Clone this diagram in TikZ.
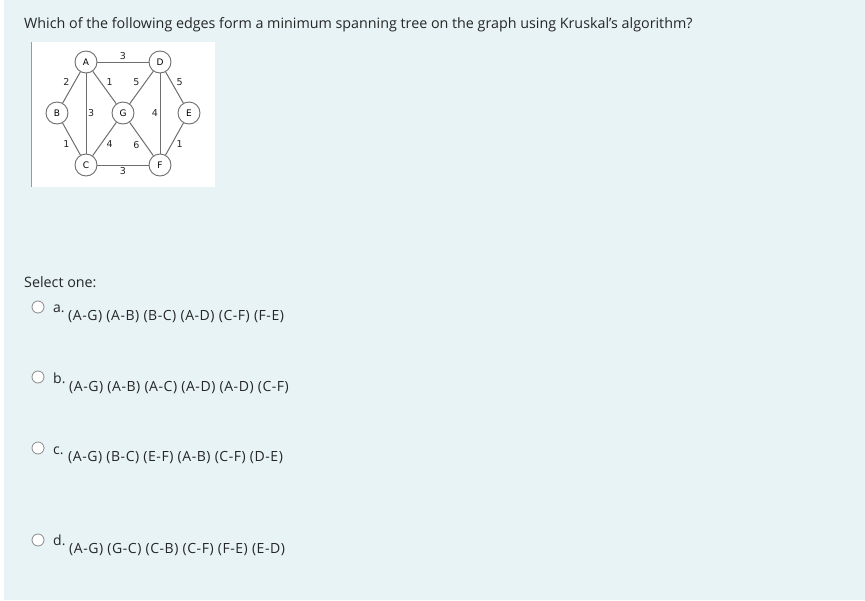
\documentclass[tikz,border=0pt]{standalone}
\usepackage{fontspec}
\setmainfont{Open Sans}
\newfontfamily\graphfont{DejaVu Sans}
\newfontfamily\answerfont[LetterSpace=3.9]{Open Sans}

\definecolor{panel}{HTML}{E7F3F5}
\definecolor{ink}{HTML}{262626}
\definecolor{edgegrey}{HTML}{6E6E6E}
\definecolor{radiogrey}{HTML}{8A8A8A}

\begin{document}
\begin{tikzpicture} [
            x=1pt, y=-1pt,
            vertex/.style = {draw=edgegrey, circle, fill=white, line width=0.9pt,
                             minimum size=22pt, inner sep=0pt,
                             font=\graphfont\fontsize{9}{9}\selectfont},
            wlabel/.style = {font=\graphfont\fontsize{9.5}{9.5}\selectfont, inner sep=1.5pt, text=ink},
            wedge/.style = {draw=edgegrey, line width=1pt},
            question/.style = {anchor=base west, inner sep=0pt, text=ink, font=\fontsize{14.3}{17}\selectfont},
            radio/.style = {draw=radiogrey, circle, fill=white, line width=0.8pt,
                            minimum size=12pt, inner sep=0pt},
            letter/.style = {anchor=base west, inner sep=0pt, text=ink, font=\fontsize{14}{16}\selectfont},
            answer/.style = {anchor=base west, inner sep=0pt, text=ink, font=\answerfont\fontsize{14}{16}\selectfont},
        ]

            % page and panel
            \useasboundingbox (0,0) rectangle (865,600);
            \fill[white] (0,0) rectangle (865,600);
            \fill[panel] (4,0) rectangle (865,600);

            % picture of the graph
            \fill[white] (31,42) rectangle (215,187);
            \draw[edgegrey!70, line width=0.8pt] (31,42) -- (31,187);

            \node[question] (Q) at (24, 28) {Which of the following edges form a minimum spanning tree on the graph using Kruskal's algorithm?};

            \node[vertex] (A) at ( 86,  62) {A};
            \node[vertex] (D) at (160,  62) {D};
            \node[vertex] (B) at ( 57, 113) {B};
            \node[vertex] (G) at (123, 113) {G};
            \node[vertex] (E) at (189, 113) {E};
            \node[vertex] (C) at ( 86, 165) {C};
            \node[vertex] (F) at (160, 165) {F};

            \draw[wedge] (A) -- node[wlabel, above] {3} (D);
            \draw[wedge] (A) -- node[wlabel, above left] {2} (B);
            \draw[wedge] (A) -- node[wlabel, above right] {1} (G);
            \draw[wedge] (A) -- node[wlabel, right] {3} (C);
            \draw[wedge] (D) -- node[wlabel, above left] {5} (G);
            \draw[wedge] (D) -- node[wlabel, above right] {5} (E);
            \draw[wedge] (D) -- node[wlabel, left] {4} (F);
            \draw[wedge] (B) -- node[wlabel, below left] {1} (C);
            \draw[wedge] (G) -- node[wlabel, below right] {4} (C);
            \draw[wedge] (G) -- node[wlabel, below left] {6} (F);
            \draw[wedge] (E) -- node[wlabel, below right] {1} (F);
            \draw[wedge] (C) -- node[wlabel, below] {3} (F);

            \node[question] (S) at (24, 287) {Select one:};

            \node[radio] (ra) at (38, 307) {};
            \node[letter] (la) at (53, 312) {a.};
            \node[answer] (oa) at (68, 320) {(A-G) (A-B) (B-C) (A-D) (C-F) (F-E)};

            \node[radio] (rb) at (38, 377) {};
            \node[letter] (lb) at (53, 383) {b.};
            \node[answer] (ob) at (69, 391) {(A-G) (A-B) (A-C) (A-D) (A-D) (C-F)};

            \node[radio] (rc) at (38, 448) {};
            \node[letter] (lc) at (53, 454) {c.};
            \node[answer] (oc) at (68, 461) {(A-G) (B-C) (E-F) (A-B) (C-F) (D-E)};

            \node[radio] (rd) at (38, 540) {};
            \node[letter] (ld) at (53, 545) {d.};
            \node[answer] (od) at (69, 553) {(A-G) (G-C) (C-B) (C-F) (F-E) (E-D)};
        \end{tikzpicture}
\end{document}
